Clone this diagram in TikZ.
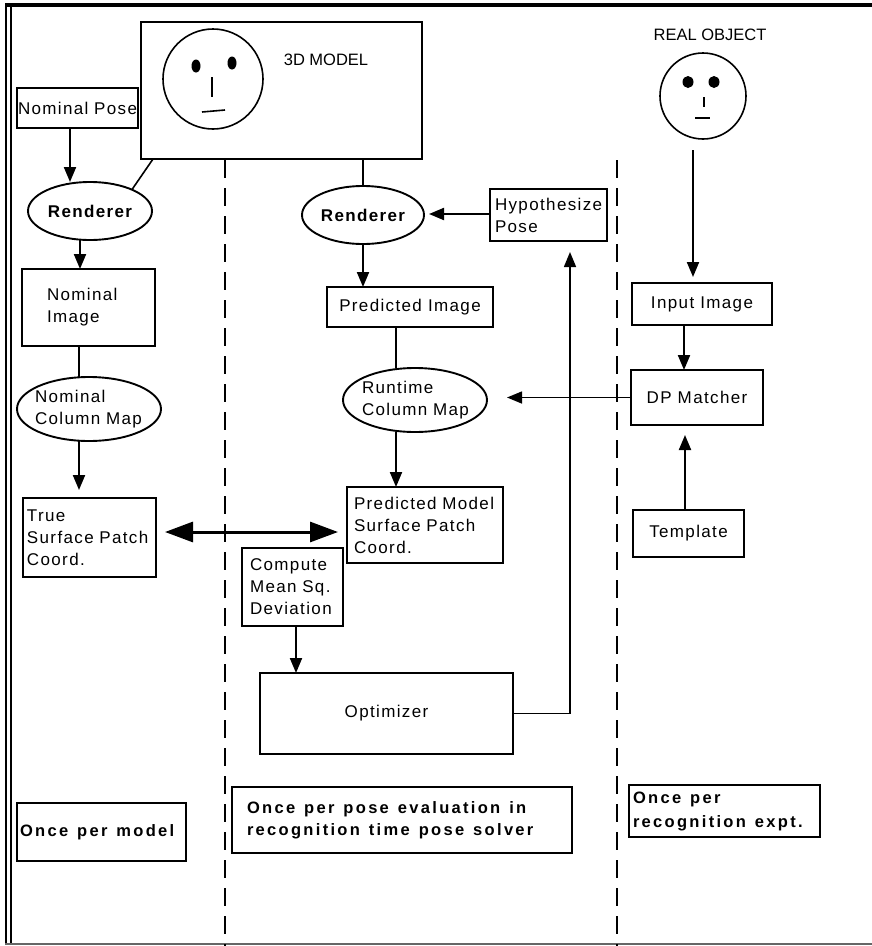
\documentclass[tikz,border=0pt]{standalone}
\usepackage{fontspec}
\setmainfont{Liberation Sans}
\newfontfamily\wide[LetterSpace=8]{Liberation Sans}
\newfontfamily\wider[LetterSpace=14]{Liberation Sans}
\newcommand\notefont{\fontsize{16.5pt}{22pt}\selectfont\wider\bfseries}
\newcommand\notefontb{\fontsize{16.5pt}{24pt}\selectfont\wider\bfseries}
% wide, unbreakable gap between words of the bold notes
\newcommand\wsp{\nobreak\hspace{9pt}\nobreak}
\usetikzlibrary{arrows.meta,calc,shapes.geometric}

\begin{document}
\begin{tikzpicture}[x=1pt,y=-1pt,
  every node/.style={inner sep=0pt, outer sep=0pt},
  txt/.style={font=\fontsize{17pt}{22pt}\selectfont\wide},
  plain/.style={font=\fontsize{16.5pt}{22pt}\selectfont},
  bx/.style={draw, line width=1.9pt, txt},
  ell/.style={draw, ellipse, line width=1.9pt, txt},
  heavy/.style={font=\fontsize{17pt}{22pt}\selectfont\wide\bfseries},
  note/.style={draw, line width=1.9pt, align=left, font=\notefont},
  ln/.style={line width=1.6pt},
  arr/.style={line width=2.1pt, -{Triangle[length=15pt,width=12pt]}},
  thinarr/.style={line width=1.5pt, -{Triangle[length=15pt,width=12pt]}},
  dbl/.style={line width=3pt,
    {Triangle[length=28pt,width=20pt]}-{Triangle[length=28pt,width=20pt]}},
  sep/.style={line width=1.8pt, dash pattern=on 18pt off 10pt},
  face/.style={draw, circle, line width=1.6pt},
]
\useasboundingbox (0,0) rectangle (872,946);

% outer frame
\draw[line width=3.2pt] (5,5) -- (872,5);
\draw[line width=2.4pt] (6,5) -- (6,944);
\draw[line width=1.1pt] (11,5) -- (11,944);
\draw[line width=1.2pt, black!60] (5,944) -- (872,944);

% column separators
\draw[sep] (225,160) -- (225,946);
\draw[sep] (617,160) -- (617,946);

% ---------- 3D model ----------
\node[bx, minimum width=281pt, minimum height=137pt] (model) at (281.5,90.5) {};
\node[plain] (modellbl) at (326,60) {3D MODEL};
\node[face, minimum size=100pt] (face1) at (213,79) {};
\fill (196,66) ellipse[x radius=4.5, y radius=6.5];
\fill (232,63) ellipse[x radius=4.5, y radius=6.5];
\draw[ln] (212,77) -- (212,97);
\draw[ln] (202,112) -- (225,110);

% ---------- real object ----------
\node[plain] (reallbl) at (710,35) {REAL OBJECT};
\node[face, minimum size=86pt] (face2) at (703,96) {};
\fill (688,82) ellipse[x radius=5.5, y radius=6];
\fill (714,82) ellipse[x radius=5.5, y radius=6];
\draw[ln] (704,97) -- (704,107);
\draw[ln] (695,118) -- (710,118);

% ---------- left column ----------
\node[bx, minimum width=121pt, minimum height=40pt, text width=119pt,
  inner xsep=1pt, align=left] (nompose) at (77.5,108) {Nominal~Pose};
\node[ell, heavy, minimum width=124pt, minimum height=58pt] (r1) at (90,211) {Renderer};
\node[bx, minimum width=133pt, minimum height=77pt, text width=83pt,
  inner xsep=25pt, align=left] (nomimg) at (88.5,307.5) {Nominal\\Image};
\node[ell, minimum width=144pt, minimum height=64pt, text width=108pt,
  inner xsep=-10pt, align=left] (nommap) at (89,409) {Nominal\\Column~Map};
\node[bx, minimum width=133pt, minimum height=79pt, text width=125pt,
  inner xsep=4pt, align=left] (truebox) at (89.5,537.5) {True\\Surface~Patch\\Coord.};

% ---------- middle column ----------
\node[ell, heavy, minimum width=122pt, minimum height=58pt] (r2) at (363,215) {Renderer};
\node[bx, minimum width=117pt, minimum height=52pt, text width=107pt,
  inner xsep=5pt, align=left] (hyp) at (548.5,215) {Hypothesize\\Pose};
\node[bx, minimum width=166pt, minimum height=40pt] (predimg) at (410,307) {Predicted~Image};
\node[ell, minimum width=144pt, minimum height=64pt, text width=106pt,
  inner xsep=-10pt, align=left] (rtmap) at (415,400) {Runtime\\Column~Map};
\node[bx, minimum width=156pt, minimum height=76pt, text width=142pt,
  inner xsep=7pt, align=left] (predmodel) at (425,525) {Predicted~Model\\Surface~Patch\\Coord.};
\node[bx, minimum width=101pt, minimum height=78pt, text width=85pt,
  inner xsep=8pt, align=left] (compute) at (292.5,587) {Compute\\Mean~Sq.\\Deviation};
\node[bx, minimum width=253pt, minimum height=81pt, text width=233pt,
  inner xsep=10pt, align=center] (optim) at (386.5,713.5) {Optimizer\hspace*{19pt}};

% ---------- right column ----------
\node[bx, minimum width=140pt, minimum height=42pt] (input) at (702,304) {Input~Image};
\node[bx, minimum width=132pt, minimum height=55pt] (dp) at (697,397.5) {DP~Matcher};
\node[bx, minimum width=111pt, minimum height=47pt] (template) at (688.5,533.5) {Template};

% ---------- frequency notes ----------
\node[note, minimum width=169pt, minimum height=58pt, text width=163pt,
  inner xsep=3pt] (once1) at (101.5,832) {Once\wsp per\wsp model};
\node[note, minimum width=340pt, minimum height=66pt, text width=310pt,
  inner xsep=15pt] (once2) at (402,820)
  {Once\wsp per\wsp pose\wsp evaluation\wsp in\\recognition\wsp time\wsp pose\wsp solver};
\node[note, minimum width=191pt, minimum height=52pt, text width=183pt,
  inner xsep=4pt, font=\notefontb] (once3) at (724.5,811)
  {Once\wsp per\\recognition\wsp expt.};

% guide abscissae / ordinates for the connectors
\coordinate (xa) at (70,0);
\coordinate (xb) at (80,0);
\coordinate (xc) at (79,0);
\coordinate (xd) at (296,0);
\coordinate (xe) at (570,0);
\coordinate (xf) at (396,0);
\coordinate (xg) at (693,0);
\coordinate (xh) at (684,0);
\coordinate (xi) at (685,0);
\coordinate (yh) at (0,214);
\coordinate (ydbl) at (0,532);

% ---------- connectors ----------
\draw[arr] (nompose.south -| xa) -- (r1.north -| xa);
\draw[ln] ($(model.south west)+(12,0)$) -- (r1.27);
\draw[arr] (r1.south -| xb) -- (nomimg.north -| xb);
\draw[ln] (nomimg.south -| xc) -- (nommap.north -| xc);
\draw[arr, shorten >=8pt] (nommap.south -| xc) -- (truebox.north -| xc);
\draw[dbl, shorten <=9pt, shorten >=9pt] (truebox.east |- ydbl) -- (predmodel.west |- ydbl);

\draw[ln] (model.south -| r2.north) -- (r2.north);
\draw[arr, shorten >=5pt] (hyp.west |- yh) -- (r2.east |- yh);
\draw[arr] (r2.south) -- (r2.south |- predimg.north);
\draw[ln] (predimg.south -| xf) -- (rtmap.north -| xf);
\draw[arr] (rtmap.south -| xf) -- (predmodel.north -| xf);
\draw[arr] (compute.south -| xd) -- (optim.north -| xd);
\draw[thinarr, shorten >=11pt] (optim.east) -| (hyp.south -| xe);

\draw[arr, shorten <=11pt, shorten >=6pt] (face2.south -| xg) -- (input.north -| xg);
\draw[arr] (input.south -| xh) -- (dp.north -| xh);
\draw[arr, shorten >=10pt] (template.north -| xi) -- (dp.south -| xi);
\draw[thinarr, shorten >=20pt] (dp.west) -- (dp.west -| rtmap.east);
\end{tikzpicture}
\end{document}
